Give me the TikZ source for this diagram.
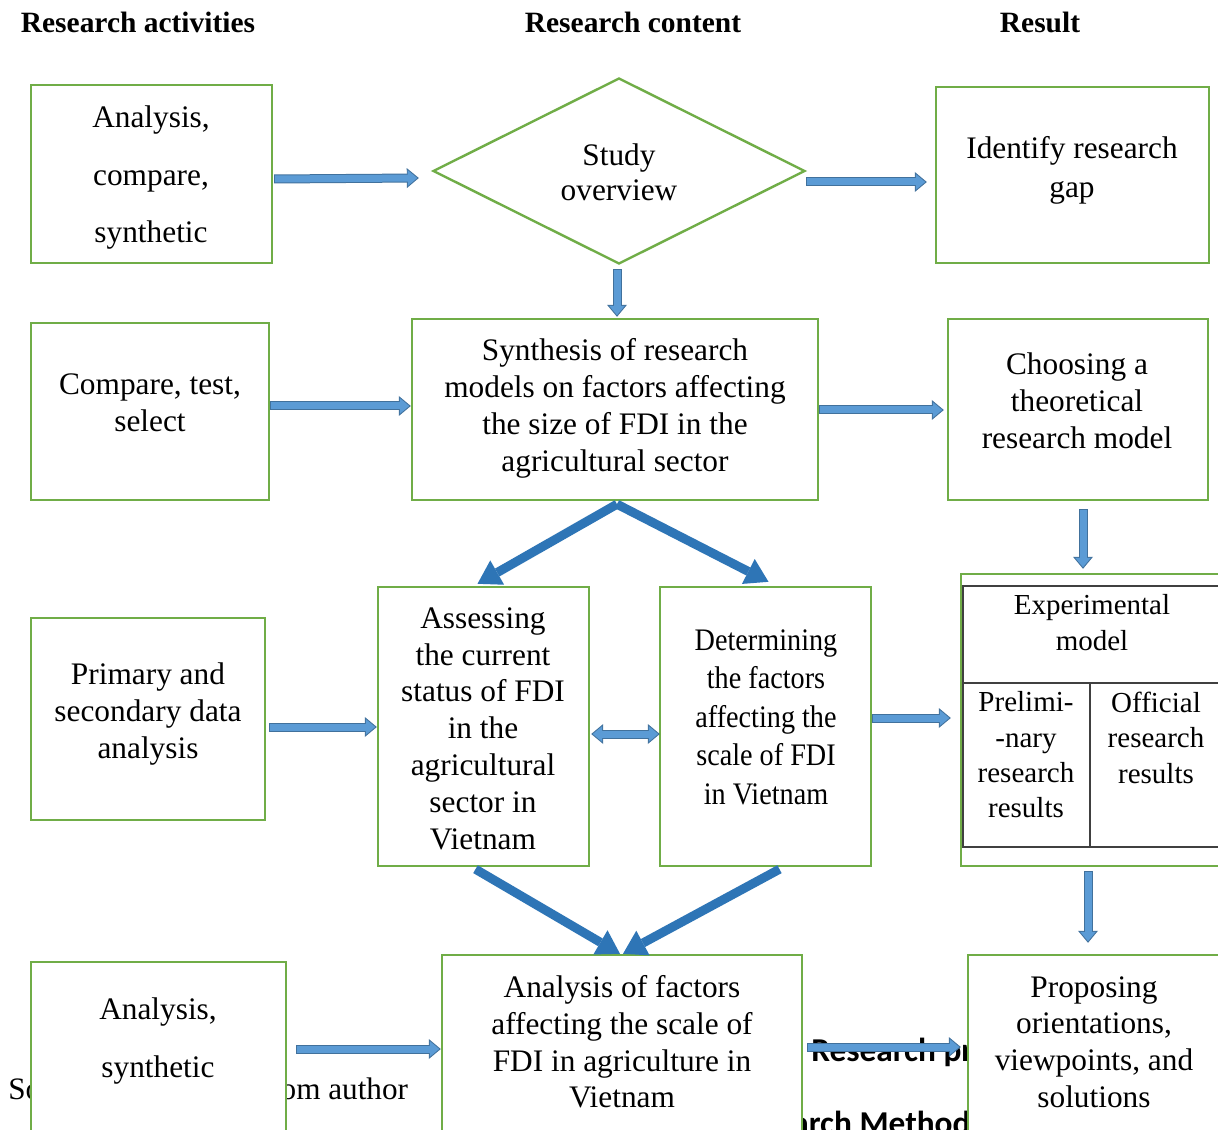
\documentclass[tikz,border=0pt]{standalone}
\usepackage{fontspec}
\setmainfont{Liberation Serif}
\newfontfamily\condfont[FakeStretch=0.9]{Liberation Serif}
\newfontfamily\calfont{Carlito}
\usetikzlibrary{arrows.meta,shapes.geometric,calc}
\definecolor{gr}{HTML}{70AD47}
\definecolor{bfill}{HTML}{5B9BD5}
\definecolor{bdark}{HTML}{41719C}
\definecolor{fatblue}{HTML}{2E75B6}
\definecolor{tblc}{HTML}{404040}
\newcommand\blockarr[2]{%
  \draw[barout] #1 -- #2;
  \draw[barin] #1 -- #2;}
\newcommand\blockdbl[2]{%
  \draw[bdout] #1 -- #2;
  \draw[bdin] #1 -- #2;}
\begin{document}
\begin{tikzpicture}[x=0.75pt,y=-0.75pt,
  box/.style={draw=gr, line width=1.8pt, fill=white, inner sep=0pt},
  txt/.style={align=center, inner sep=0pt, font=\fontsize{23.5}{#1}\selectfont},
  ctxt/.style={align=center, inner sep=0pt, font=\condfont\fontsize{23.5}{#1}\selectfont},
  stxt/.style={align=center, inner sep=0pt, font=\fontsize{21.75}{#1}\selectfont},
  hdr/.style={inner sep=0pt, font=\fontsize{22.1}{25}\selectfont\bfseries},
  tbl/.style={draw=tblc, line width=1.1pt},
  barout/.style={draw=bdark, line width=6.75pt, -{Triangle[length=9pt,width=15pt,line width=0pt]}},
  barin/.style={draw=bfill, line width=5.25pt, shorten >=1.17pt, shorten <=0.75pt, -{Triangle[length=7.1pt,width=11.8pt,line width=0pt]}},
  bdout/.style={draw=bdark, line width=6.75pt, {Triangle[length=9pt,width=15pt,line width=0pt]}-{Triangle[length=9pt,width=15pt,line width=0pt]}},
  bdin/.style={draw=bfill, line width=5.25pt, shorten >=1.17pt, shorten <=1.17pt, {Triangle[length=7.1pt,width=11.8pt,line width=0pt]}-{Triangle[length=7.1pt,width=11.8pt,line width=0pt]}},
  fat/.style={draw=fatblue, line width=6.75pt, -{Triangle[length=17pt,width=21pt,line width=0pt]}}
]
\useasboundingbox (0,0) rectangle (1218,1130);
\clip (0,0) rectangle (1218,1130);
\fill[white] (0,0) rectangle (1218,1130);

% headers
\node[hdr] (h1) at (138,22) {Research activities};
\node[hdr] (h2) at (633,22) {Research content};
\node[hdr] (h3) at (1040,22) {Result};

% background texts (partly hidden)
\node[anchor=base west, inner sep=0pt, font=\fontsize{23.4}{26}\selectfont] (src) at (8,1099) {Source: Synthesized\hspace{-9.5pt} from author};
\node[anchor=base west, inner sep=0pt, font=\calfont\fontsize{25}{28}\selectfont\bfseries] (cap1) at (811,1061.5) {Research process};
\node[anchor=base west, inner sep=0pt, font=\calfont\fontsize{25}{28}\selectfont\bfseries] (cap2) at (727,1134.5) {Research Methods};

% row 1
\node[box, minimum width=180.75pt, minimum height=133.5pt] (A1) at (151.5,174) {};
\node[txt=43.1pt] (A1t) at (151,177.7) {Analysis,\\compare,\\synthetic};
\node[box, diamond, minimum width=279pt, minimum height=139.5pt] (D) at (619,171) {};
\node[txt=26.25pt] (Dt) at (619,172.5) {Study\\overview};
\node[box, minimum width=204.75pt, minimum height=132pt] (R1) at (1072.5,175) {};
\node[txt=29.25pt] (R1t) at (1072,170) {Identify research\\gap};

% row 2
\node[box, minimum width=178.5pt, minimum height=132.75pt] (A2) at (150,411.5) {};
\node[txt=27.75pt] (A2t) at (150,402.5) {Compare, test,\\select};
\node[box, minimum width=304.5pt, minimum height=135.75pt] (C2) at (615,409.5) {};
\node[txt=27.75pt] (C2t) at (615,408.5) {Synthesis of research\\models on factors affecting\\the size of FDI in the\\agricultural sector};
\node[box, minimum width=195pt, minimum height=135.75pt] (R2) at (1078,409.5) {};
\node[txt=27.75pt] (R2t) at (1077,401) {Choosing a\\theoretical\\research model};

% row 3
\node[box, minimum width=175.5pt, minimum height=151.5pt] (A3) at (148,719) {};
\node[txt=27.75pt] (A3t) at (148,714) {Primary and\\secondary data\\analysis};
\node[box, minimum width=158.25pt, minimum height=209.25pt] (C3a) at (483.5,726.5) {};
\node[txt=27.6pt] (C3at) at (483,728.5) {Assessing\\the current\\status of FDI\\in the\\agricultural\\sector in\\Vietnam};
\node[box, minimum width=158.25pt, minimum height=209.25pt] (C3b) at (765.5,726.5) {};
\node[ctxt=28.9pt] (C3bt) at (766,717) {Determining\\the factors\\affecting the\\scale of FDI\\in Vietnam};
\node[box, minimum width=203.25pt, minimum height=219pt] (EX) at (1096.5,720) {};
\draw[tbl] (1235,586) -- (963,586) -- (963,847) -- (1235,847);
\draw[tbl] (963,683) -- (1235,683);
\draw[tbl] (1090,683) -- (1090,847);
\node[stxt=27pt] (EXt) at (1092,623) {Experimental\\model};
\node[stxt=26.5pt] (EXl) at (1026,755) {Prelimi-\\-nary\\research\\results};
\node[stxt=26.6pt] (EXr) at (1156,737.5) {Official\\research\\results};

% row 4
\node[box, minimum width=191.25pt, minimum height=137.25pt] (A4) at (158.5,1053.5) {};
\node[txt=43.5pt] (A4t) at (158,1041) {Analysis,\\synthetic};
\node[box, minimum width=270pt, minimum height=142.5pt] (C4) at (622,1050) {};
\node[txt=27.5pt] (C4t) at (622,1042) {Analysis of factors\\affecting the scale of\\FDI in agriculture in\\Vietnam};
\node[box, minimum width=198pt, minimum height=142.5pt] (R4) at (1100,1050) {};
\node[txt=27.5pt] (R4t) at (1094,1042) {Proposing\\orientations,\\viewpoints, and\\solutions};

% block arrows
\blockarr{($(A1.east)+(1,5)$)}{($(D.west)+(-13,7)$)}
\blockarr{($(D.east)+(0,11)$)}{($(R1.west)+(-8,7)$)}
\blockarr{($(D.south)+(-2,4)$)}{($(C2.north)+(2,-1)$)}
\blockarr{($(A2.east)+(0,-5.5)$)}{($(C2.west)+(0,-3.5)$)}
\blockarr{($(C2.east)+(0,0.5)$)}{($(R2.west)+(-3,0.5)$)}
\blockarr{($(R2.south)+(5,8)$)}{($(EX.north)+(-13.5,-4)$)}
\blockarr{($(A3.east)+(3,8)$)}{($(C3a.west)+(0,0.5)$)}
\blockdbl{($(C3a.east)+(1,7.5)$)}{($(C3b.west)+(1,7.5)$)}
\blockarr{($(C3b.east)+(0,-8.5)$)}{($(EX.west)+(-9,-2)$)}
\blockarr{($(EX.south)+(-8.5,4)$)}{($(R4.north)+(-12,-11)$)}
\blockarr{($(A4.east)+(9,-4.5)$)}{($(C4.west)+(0,-1)$)}
\blockarr{($(C4.east)+(4,-3)$)}{($(R4.west)+(-6,-3)$)}

% fat arrows
\draw[fat] ($(C2.south)+(2,3)$) -- ($(C3a.north)+(-6,-2)$);
\draw[fat] ($(C2.south)+(2,3)$) -- ($(C3b.north)+(3,-4)$);
\draw[fat] ($(C3a.south)+(-8,2)$) -- ($(C4.north)+(-2,0)$);
\draw[fat] ($(C3b.south)+(14,2)$) -- ($(C4.north)+(1,0)$);
\end{tikzpicture}
\end{document}
